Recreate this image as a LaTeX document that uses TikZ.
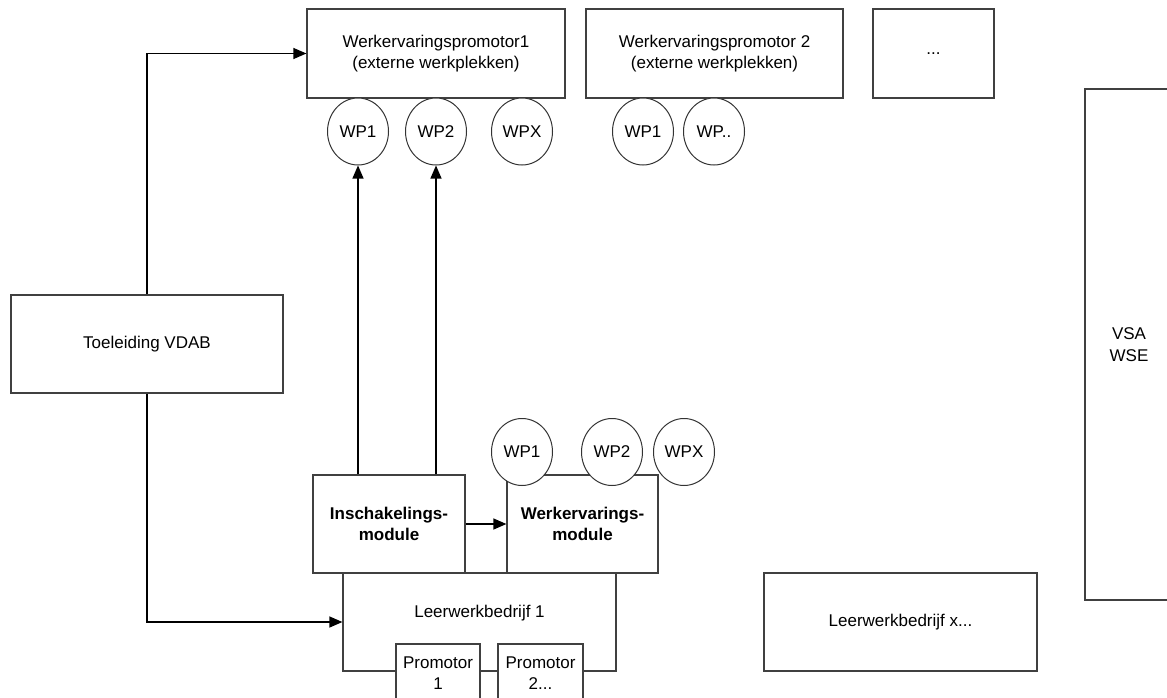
\documentclass[tikz,border=0pt]{standalone}
\usepackage{fontspec}
\setmainfont{Liberation Sans}
\usetikzlibrary{shapes.geometric,arrows.meta}

\begin{document}
\begin{tikzpicture}[x=1pt, y=-1pt, >={Triangle[length=13pt,width=11pt]}]
\tikzstyle{every node} = [font=\fontsize{17}{21.5}\selectfont, align=center]
\tikzstyle{vak} = [rectangle, draw=black!75, line width=1.2pt, fill=white, inner sep=0pt]
\tikzstyle{wp} = [ellipse, draw=black!80, line width=1pt, fill=white, minimum width=61pt, minimum height=67pt, inner sep=0pt]
\useasboundingbox (0,0) rectangle (1167,698);

% promotoren bovenaan
\node[vak, minimum width=258pt, minimum height=89pt] (wep1) at (436,53.5) {Werkervaringspromotor1\\(externe werkplekken)};
\node[vak, minimum width=257pt, minimum height=89pt] (wep2) at (714.5,53.5) {Werkervaringspromotor 2\\(externe werkplekken)};
\node[vak, minimum width=121pt, minimum height=89pt] (dots) at (933.5,53.5) {...};

\node[vak, minimum width=272pt, minimum height=98pt] (toel) at (147,344) {Toeleiding VDAB};
\node[vak, minimum width=88pt, minimum height=511pt] (vsa) at (1129,344.5) {VSA\\WSE};

% leerwerkbedrijf
\node[vak, minimum width=273pt, minimum height=98pt] (lwb1) at (479.5,622) {Leerwerkbedrijf 1\\[0pt]};
\node[vak, minimum width=152pt, minimum height=98pt, font=\fontsize{17}{21.5}\selectfont\bfseries] (insch) at (389,524) {Inschakelings-\\module};
\node[vak, minimum width=151pt, minimum height=98pt, font=\fontsize{17}{21.5}\selectfont\bfseries] (werkm) at (582.5,524) {Werkervarings-\\module};
\node[vak, minimum width=84pt, minimum height=58pt] (prom1) at (438,673) {Promotor\\1};
\node[vak, minimum width=85pt, minimum height=58pt] (prom2) at (540.5,673) {Promotor\\2...};
\node[vak, minimum width=273pt, minimum height=98pt] (lwbx) at (900.5,622) {Leerwerkbedrijf x...};

% werkplekken
\node[wp] (a1) at (358,131.5) {WP1};
\node[wp] (a2) at (436,131.5) {WP2};
\node[wp] (ax) at (522,131.5) {WPX};
\node[wp] (b1) at (643,131.5) {WP1};
\node[wp] (b2) at (714,131.5) {WP..};
\node[wp] (c1) at (522,452) {WP1};
\node[wp] (c2) at (612,452) {WP2};
\node[wp] (cx) at (684,452) {WPX};

\draw [->, line width=1.2pt] (toel.north) |- (wep1.west);
\draw [->, line width=1.2pt] (toel.south) |- (lwb1.west);
\draw [->, line width=1.2pt] (insch.north -| a1) -- (a1.south);
\draw [->, line width=1.2pt] (insch.north -| a2) -- (a2.south);
\draw [->, line width=1.2pt] (insch) -- (werkm);
\end{tikzpicture}
\end{document}
